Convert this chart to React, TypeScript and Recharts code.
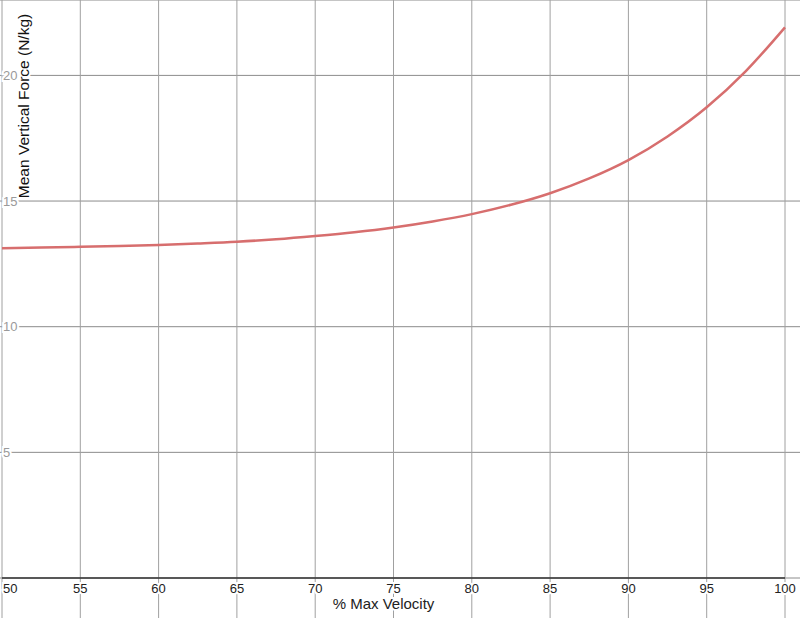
import React from "react";
import { LineChart, Line, XAxis, YAxis, CartesianGrid, Label } from "recharts";

const velocity = [50, 52.5, 55, 57.5, 60, 62.5, 65, 67.5, 70, 72.5, 75, 77.5, 80, 82.5, 85, 87.5, 90, 92.5, 95, 97.5, 100];
const force = [13.12, 13.15, 13.18, 13.21, 13.25, 13.31, 13.38, 13.48, 13.61, 13.76, 13.95, 14.19, 14.48, 14.85, 15.31, 15.9, 16.63, 17.57, 18.73, 20.17, 21.91];
const xTicks = [50, 55, 60, 65, 70, 75, 80, 85, 90, 95, 100];
const yTicks = [5, 10, 15, 20];
const xLabel = "% Max Velocity";
const yLabel = "Mean Vertical Force (N/kg)";

const data = velocity.map((v, i) => ({ v, f: force[i] }));

const FONT = "'Liberation Sans', Arial, sans-serif";
const W = 800;
const H = 618;

const XTick = (props: any) => {
  const { x, y, payload, index } = props;
  const first = index === 0;
  return (
    <text
      x={first ? x + 1 : x}
      y={y + 15}
      textAnchor={first ? "start" : "middle"}
      fontFamily={FONT}
      fontSize={13}
      fill="#222"
      stroke="#fff"
      strokeWidth={4}
      paintOrder="stroke"
    >
      {payload.value}
    </text>
  );
};

const YTick = (props: any) => {
  const { x, y, payload } = props;
  return (
    <text
      x={x + 1}
      y={y}
      dy="0.36em"
      textAnchor="start"
      fontFamily={FONT}
      fontSize={13}
      fill="#9a9a9a"
      stroke="#fff"
      strokeWidth={4}
      paintOrder="stroke"
    >
      {payload.value}
    </text>
  );
};

const hLine = (p: any) => (
  <line key={p.key ?? `h-${p.index}`} x1={0} x2={W} y1={p.y1} y2={p.y2} stroke="#8c8c8c" strokeWidth={1} />
);
const vLine = (p: any) => (
  <line key={p.key ?? `v-${p.index}`} x1={p.x1} x2={p.x2} y1={0} y2={H} stroke="#a0a0a0" strokeWidth={1} />
);

export default function App() {
  return (
    <div style={{ position: "absolute", left: 0, top: 0, width: W, height: H, background: "#fff" }}>
      <LineChart width={W} height={H} data={data} margin={{ top: 0, right: 15, left: 0, bottom: 0 }}>
        <CartesianGrid horizontal={hLine} vertical={vLine} />
        <XAxis
          dataKey="v"
          type="number"
          domain={[50, 100]}
          ticks={xTicks}
          height={40}
          tickSize={0}
          tickMargin={0}
          tickLine={false}
          axisLine={{ stroke: "#333", strokeWidth: 1.5 }}
          tick={<XTick />}
          interval={0}
        >
          <Label
            content={(props: any) => {
              const vb = props.viewBox;
              return (
                <text
                  x={vb.x + vb.width / 2 - 10}
                  y={vb.y + vb.height - 9}
                  textAnchor="middle"
                  fontFamily={FONT}
                  fontSize={15}
                  fill="#222"
                  stroke="#fff"
                  strokeWidth={4}
                  paintOrder="stroke"
                >
                  {xLabel}
                </text>
              );
            }}
          />
        </XAxis>
        <YAxis
          type="number"
          domain={[0, 23]}
          ticks={yTicks}
          width={2}
          tickSize={0}
          tickMargin={0}
          tickLine={false}
          axisLine={false}
          tick={<YTick />}
          interval={0}
        >
          <Label
            content={(props: any) => {
              const vb = props.viewBox;
              const cx = vb.x + 23;
              const cy = vb.y + 106;
              return (
                <text
                  x={cx}
                  y={cy}
                  textAnchor="middle"
                  dominantBaseline="central"
                  transform={`rotate(-90, ${cx}, ${cy})`}
                  fontFamily={FONT}
                  fontSize={15.5}
                  fill="#111"
                  stroke="#fff"
                  strokeWidth={4}
                  paintOrder="stroke"
                >
                  {yLabel}
                </text>
              );
            }}
          />
        </YAxis>
        <Line
          type="monotone"
          dataKey="f"
          stroke="#d76e6e"
          strokeWidth={2.5}
          dot={false}
          isAnimationActive={false}
        />
      </LineChart>
    </div>
  );
}
